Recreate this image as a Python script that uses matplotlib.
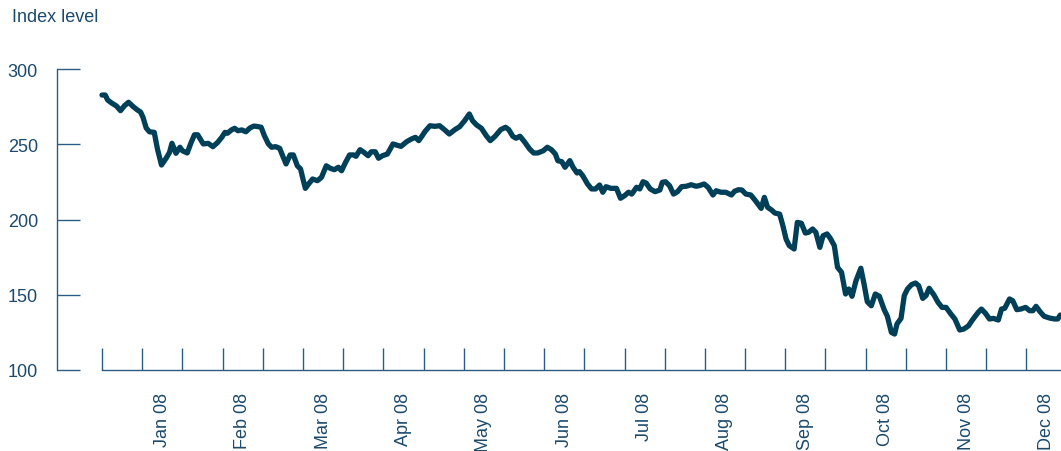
from matplotlib import pyplot as plt
import numpy as np

months = [0.00, 0.04, 0.07, 0.12, 0.18, 0.23, 0.28, 0.33, 0.39, 0.44, 0.48, 0.51, 0.55, 0.59, 0.65,
          0.69, 0.74, 0.80, 0.84, 0.87, 0.90, 0.92, 0.97, 1.00, 1.06, 1.11, 1.15, 1.19, 1.26, 1.32,
          1.38, 1.44, 1.49, 1.53, 1.56, 1.61, 1.65, 1.69, 1.74, 1.79, 1.84, 1.89, 1.94,
          1.98, 2.02, 2.07, 2.11, 2.16, 2.21, 2.25, 2.29, 2.34, 2.38, 2.43, 2.47, 2.50, 2.53, 2.57,
          2.62, 2.68, 2.73, 2.79, 2.84, 2.89, 2.94, 2.98, 3.03, 3.08, 3.13, 3.16, 3.21, 3.26, 3.31,
          3.35, 3.40, 3.44, 3.49, 3.55, 3.62, 3.66, 3.72, 3.79, 3.85, 3.90, 3.94,
          3.97, 4.02, 4.08, 4.14, 4.20, 4.26, 4.32, 4.39, 4.45, 4.51, 4.57, 4.61, 4.66, 4.72, 4.78,
          4.83, 4.89, 4.96, 5.02, 5.06, 5.11, 5.15, 5.20, 5.26, 5.32, 5.37, 5.42, 5.49, 5.54, 5.59,
          5.64, 5.67, 5.72, 5.76, 5.82, 5.86, 5.91,
          5.94, 5.98, 6.04, 6.09, 6.14, 6.19, 6.23, 6.27, 6.33, 6.40, 6.45, 6.50, 6.55, 6.59, 6.65,
          6.69, 6.73, 6.77, 6.82, 6.88, 6.94, 6.97, 7.01, 7.06, 7.11, 7.16, 7.21, 7.27, 7.33, 7.39,
          7.43, 7.49, 7.54, 7.60, 7.64, 7.70, 7.76, 7.83, 7.87, 7.92,
          7.96, 8.01, 8.07, 8.12, 8.16, 8.20, 8.24, 8.28, 8.33, 8.37, 8.43, 8.47, 8.51, 8.55, 8.61,
          8.65, 8.70, 8.75, 8.79, 8.84, 8.88, 8.93, 8.97, 9.02, 9.06, 9.11, 9.15, 9.20, 9.25, 9.29,
          9.33, 9.38, 9.44, 9.48, 9.52, 9.57, 9.62, 9.67, 9.73, 9.77, 9.82, 9.86, 9.89,
          9.94, 9.98, 10.02, 10.07, 10.12, 10.16, 10.21, 10.25, 10.29, 10.35, 10.40, 10.45, 10.50,
          10.56, 10.61, 10.67, 10.72, 10.78, 10.83, 10.90, 10.94, 10.99, 11.04, 11.09, 11.15, 11.19,
          11.23, 11.29, 11.33, 11.38, 11.43, 11.49, 11.54, 11.58, 11.62, 11.67, 11.72, 11.79, 11.85,
          11.89, 11.92]

index_level = [282.7, 282.7, 279.4, 277.4, 275.4, 272.3, 275.6, 277.9, 274.9, 272.8, 271.4, 267.9, 260.8, 258.3, 257.9,
               246.8, 236.2, 240.9, 244.6, 250.6, 246.8, 244.0, 248.0, 245.7, 244.2, 251.3, 256.3, 256.3, 250.2, 250.6,
               248.4, 251.3, 254.6, 257.9, 257.3, 259.5, 260.6, 259.0, 259.5, 258.3, 260.8, 262.1, 261.7,
               261.3, 255.7, 250.2, 248.0, 248.4, 247.3, 242.0, 236.9, 242.9, 242.9, 235.7, 233.6, 226.9, 220.7, 223.6,
               226.9, 225.8, 228.0, 235.7, 234.0, 233.1, 234.7, 232.4, 238.0, 242.9, 242.9, 242.0, 246.4, 244.6, 242.4,
               245.0, 245.0, 240.7, 242.4, 243.5, 250.2, 249.5, 248.6, 251.7, 253.5, 254.6, 252.4,
               254.6, 258.6, 262.3, 261.9, 262.3, 259.7, 256.8, 259.7, 261.7, 265.6, 270.1, 265.6, 262.8, 260.6, 255.7,
               252.4, 255.3, 259.7, 261.3, 259.7, 255.3, 254.0, 255.3, 251.3, 246.8, 244.2, 244.2, 245.7, 248.0, 246.4,
               243.5, 239.1, 238.4, 234.7, 239.1, 234.7, 230.9,
               231.8, 229.1, 223.6, 220.3, 220.3, 222.9, 218.1, 221.8, 220.7, 220.7, 214.1, 215.8, 218.1, 216.9, 221.4,
               220.3, 225.1, 224.2, 220.3, 218.5, 219.6, 224.7, 225.1, 222.5, 216.9, 218.5, 221.8, 222.1, 223.1, 222.1,
               222.5, 223.6, 221.4, 216.3, 219.1, 218.1, 218.1, 216.3, 218.8, 219.8,
               219.6, 216.9, 216.3, 213.1, 210.3, 207.4, 214.7, 208.1, 206.3, 204.3, 203.6, 195.9, 187.0, 182.6, 180.4,
               198.1, 197.5, 191.0, 191.5, 193.7, 191.5, 181.5, 189.2, 190.4, 187.5, 182.6, 168.2, 164.9, 150.5, 153.8,
               149.0, 159.3, 167.6, 157.1, 145.4, 142.7, 150.5, 149.0, 140.1, 135.7, 125.0, 123.9, 130.6,
               134.3, 149.4, 153.8, 156.7, 157.8, 156.0, 147.6, 149.4, 154.3, 149.8, 145.0, 141.6, 141.6,
               137.2, 133.9, 126.6, 127.2, 129.4, 133.4, 138.3, 140.5, 137.7, 133.9, 134.3, 133.2, 140.5,
               141.0, 147.2, 146.0, 140.1, 140.5, 141.6, 139.4, 139.4, 142.3, 138.7, 135.7, 134.5, 133.9,
               133.9, 136.5]

month_labels = ['Jan 08', 'Feb 08', 'Mar 08', 'Apr 08', 'May 08', 'Jun 08',
                'Jul 08', 'Aug 08', 'Sep 08', 'Oct 08', 'Nov 08', 'Dec 08']
y_ticks = [100, 150, 200, 250, 300]

line_col = '#003f58'
axis_col = '#2b5d84'
text_col = '#1b4a6d'

plt.rcParams['font.family'] = ['Liberation Sans', 'DejaVu Sans']

fig = plt.figure(figsize=(10.61, 4.52), dpi=100)
ax = fig.add_axes([102 / 1061, 1 - 371 / 452, 1 - 102 / 1061, 301 / 452])

ax.plot(months, index_level, color=line_col, linewidth=3.8, solid_joinstyle='round',
        solid_capstyle='round', clip_on=False)

ax.set_xlim(0, 11.93)
ax.set_ylim(100, 300)

for s in ['top', 'right']:
    ax.spines[s].set_visible(False)
ax.spines['left'].set_position(('outward', 32.4))
ax.spines['left'].set_color(axis_col)
ax.spines['bottom'].set_color(axis_col)
ax.spines['left'].set_linewidth(1.0)
ax.spines['bottom'].set_linewidth(1.0)

ax.set_yticks(y_ticks)
ax.set_yticklabels([str(v) for v in y_ticks])
ax.tick_params(axis='y', direction='in', length=16.6, width=1.0, color=axis_col,
               labelcolor=text_col, labelsize=13, pad=13.7)

# half-month tick marks, labels sit between them
ax.set_xticks(np.arange(0, 11.6, 0.5))
ax.set_xticklabels([])
ax.set_xticks(0.75 + np.arange(12), minor=True)
ax.set_xticklabels(month_labels, minor=True, rotation=90, va='top', ha='center')
ax.tick_params(axis='x', which='major', direction='in', length=15.8, width=1.0, color=axis_col)
ax.tick_params(axis='x', which='minor', length=0, labelcolor=text_col, labelsize=13, pad=15.8)

fig.text(12 / 1061, 1 - 18 / 452, 'Index level', color=text_col, fontsize=13,
         ha='left', va='center')

fig.savefig('out.png', dpi=100)
